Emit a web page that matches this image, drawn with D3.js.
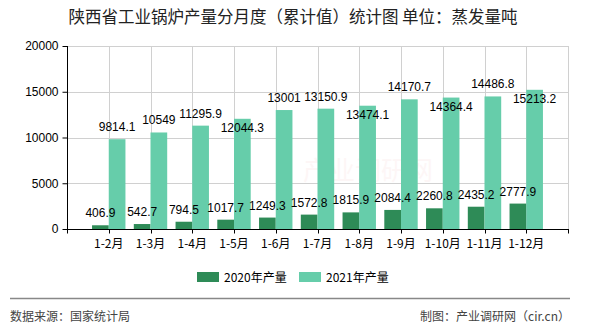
<!DOCTYPE html>
<html><head><meta charset="utf-8">
<script src="https://cdn.jsdelivr.net/npm/d3@7"></script>
<style>
body{margin:0;background:#fff;}
svg{display:block;}
text{font-family:"Liberation Sans","Noto Sans CJK SC",sans-serif;}
.cjk{font-family:"Noto Sans CJK SC","Liberation Sans",sans-serif;}
</style></head>
<body>
<svg id="chart" width="590" height="330"></svg>
<script>
const title = "陕西省工业锅炉产量分月度（累计值）统计图 单位：蒸发量吨";
const categories = ["1-2月","1-3月","1-4月","1-5月","1-6月","1-7月","1-8月","1-9月","1-10月","1-11月","1-12月"];
const values2020 = [406.9,542.7,794.5,1017.7,1249.3,1572.8,1815.9,2084.4,2260.8,2435.2,2777.9];
const values2021 = [9814.1,10549,11295.9,12044.3,13001,13150.9,13474.1,14170.7,14364.4,14486.8,15213.2];
const seriesNames = ["2020年产量","2021年产量"];
const seriesColors = ["#2e8b57","#66cdaa"];
const yTicks = [0,5000,10000,15000,20000];
const footerLeft = "数据来源：国家统计局";
const footerRight = "制图：产业调研网（cir.cn）";

const svg = d3.select("#chart");
const L = 67, R = 568, T = 46, B = 229;

const x = d3.scalePoint().domain(categories).range([L, R]).padding(1);
const step = x.step();
const y = d3.scaleLinear().domain([0, 20000]).range([B, T]);
const bw = step * 0.4;

// title
svg.append("text").attr("class","cjk").attr("x",293).attr("y",23)
  .attr("text-anchor","middle").attr("font-size",16.5).attr("fill","#222").text(title);

// watermark
svg.append("text").attr("class","cjk").attr("x",368).attr("y",180)
  .attr("text-anchor","middle").attr("font-size",26).attr("fill","#e03030")
  .attr("opacity",0.04).text("产业调研网");

// grid
const g = svg.append("g");
g.selectAll(".hg").data(yTicks.filter(d=>d>0)).join("line")
  .attr("x1",L).attr("x2",R).attr("y1",d=>Math.round(y(d))+0.5).attr("y2",d=>Math.round(y(d))+0.5)
  .attr("stroke","#d0d0d0").attr("stroke-width",1);
const gridX = [L, ...categories.map(c=>x(c)), R];
g.selectAll(".vg").data(gridX.slice(1)).join("line")
  .attr("x1",d=>Math.round(d)+0.5).attr("x2",d=>Math.round(d)+0.5).attr("y1",T).attr("y2",B)
  .attr("stroke","#d0d0d0").attr("stroke-width",1);

// bars
const series = [values2020, values2021];
series.forEach((vals, si) => {
  g.selectAll(".bar"+si).data(vals).join("rect")
    .attr("x",(d,i)=> x(categories[i]) + (si===0 ? -bw : 0))
    .attr("width",bw)
    .attr("y",d=>y(d)).attr("height",d=>B - y(d))
    .attr("fill",seriesColors[si]);
});

// axes
const yAxis = svg.append("g").attr("transform",`translate(${L+0.5},0)`)
  .call(d3.axisLeft(y).tickValues(yTicks).tickSize(5).tickPadding(4).tickFormat(d3.format("d")));
yAxis.select(".domain").attr("stroke","#000").attr("d",`M0,${T}V${B}`);
yAxis.selectAll(".tick line").attr("stroke","#000");
yAxis.selectAll("text").attr("font-size",12).attr("fill","#000");

const xAxis = svg.append("g").attr("transform",`translate(0,${B+0.5})`);
xAxis.append("line").attr("x1",L).attr("x2",R+1).attr("y1",0).attr("y2",0).attr("stroke","#000");
xAxis.selectAll(".xt").data(gridX).join("line")
  .attr("x1",d=>Math.round(d)+0.5).attr("x2",d=>Math.round(d)+0.5).attr("y1",0).attr("y2",4).attr("stroke","#000");
xAxis.selectAll(".xl").data(categories).join("text").attr("class","cjk")
  .attr("x",d=>x(d)).attr("y",18).attr("text-anchor","middle").attr("font-size",12).attr("fill","#000").text(d=>d);

// data labels with simple overlap avoidance
const lblG = svg.append("g");
series.forEach((vals, si) => {
  let prev = null;
  vals.forEach((v, i) => {
    const cx = x(categories[i]) + (si===0 ? -bw/2 : bw/2);
    const t = lblG.append("text").attr("x",cx).attr("text-anchor","middle")
      .attr("font-size",12).attr("fill","#000").text(String(v));
    const w = t.node().getComputedTextLength();
    const top = y(v);
    let base = top - 8;
    let box = {x0:cx-w/2, x1:cx+w/2, y0:base-10, y1:base+2};
    if (prev && box.x0 < prev.x1 && box.y0 < prev.y1 && box.y1 > prev.y0) {
      base = top + 13;
      box = {x0:cx-w/2, x1:cx+w/2, y0:base-10, y1:base+2};
    }
    t.attr("y",base);
    prev = box;
  });
});

// legend
const leg = svg.append("g");
const legItems = [{x:197},{x:299}];
seriesNames.forEach((n, i) => {
  leg.append("rect").attr("x",legItems[i].x).attr("y",272).attr("width",22).attr("height",10).attr("fill",seriesColors[i]);
  leg.append("text").attr("class","cjk").attr("x",legItems[i].x+27).attr("y",281.5)
    .attr("font-size",12).attr("fill","#000").text(n);
});

// footer
svg.append("line").attr("x1",10).attr("x2",570).attr("y1",298.5).attr("y2",298.5).attr("stroke","#888").attr("stroke-width",1.5);
svg.append("text").attr("class","cjk").attr("x",10).attr("y",321).attr("font-size",12).attr("fill","#444").text(footerLeft);
svg.append("text").attr("class","cjk").attr("x",570).attr("y",321).attr("text-anchor","end").attr("font-size",12).attr("fill","#444").text(footerRight);
</script>
</body></html>
